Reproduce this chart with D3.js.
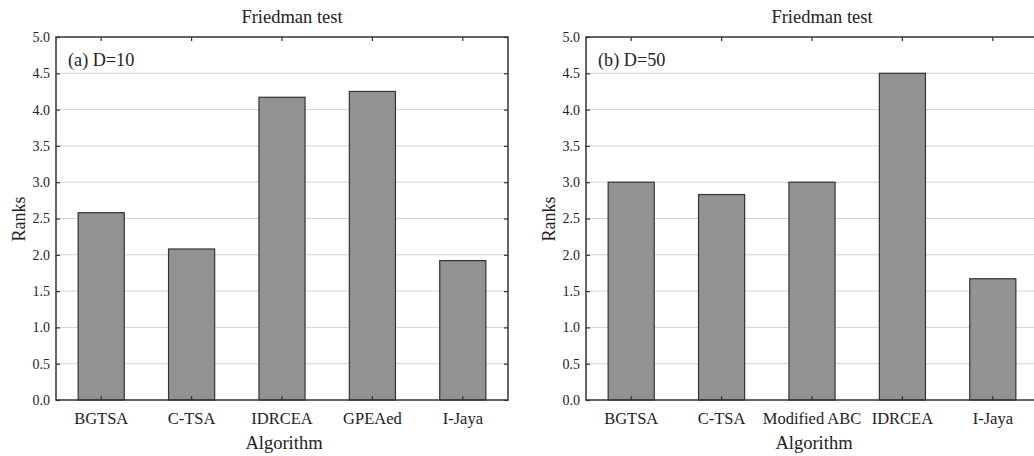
<!DOCTYPE html>
<html>
<head>
<meta charset="utf-8">
<script src="https://cdn.jsdelivr.net/npm/d3@7"></script>
<style>
  body { margin: 0; background: #fff; }
  svg { display: block; font-family: "Liberation Serif", "Times New Roman", serif; }
</style>
</head>
<body>
<div id="chart"></div>
<script>
// data
const algosA = ["BGTSA", "C-TSA", "IDRCEA", "GPEAed", "I-Jaya"];
const ranksA = [2.58, 2.08, 4.17, 4.25, 1.92];
const algosB = ["BGTSA", "C-TSA", "Modified ABC", "IDRCEA", "I-Jaya"];
const ranksB = [3.0, 2.83, 3.0, 4.5, 1.67];
const yTicks = [0, 0.5, 1, 1.5, 2, 2.5, 3, 3.5, 4, 4.5, 5];

const width = 1034, height = 456;
const svg = d3.select("#chart").append("svg")
  .attr("width", width)
  .attr("height", height);

function drawPanel(left, algos, ranks, tag) {
  const top = 37, bottom = 400, plotW = 452;
  const g = svg.append("g");

  const x = d3.scaleBand().domain(algos).range([left, left + plotW]).paddingInner(0).paddingOuter(0);
  const y = d3.scaleLinear().domain([0, 5]).range([bottom, top]);
  const barW = x.bandwidth() * 0.51;

  // gridlines
  g.selectAll(".grid")
    .data(yTicks.filter(t => t > 0 && t < 5))
    .enter().append("line")
    .attr("x1", left).attr("x2", left + plotW)
    .attr("y1", d => y(d)).attr("y2", d => y(d))
    .attr("stroke", "#d4d4d4").attr("stroke-width", 1);

  // bars
  g.selectAll(".bar")
    .data(ranks)
    .enter().append("rect")
    .attr("x", (d, i) => x(algos[i]) + x.bandwidth() / 2 - barW / 2)
    .attr("y", d => y(d))
    .attr("width", barW)
    .attr("height", d => bottom - y(d))
    .attr("fill", "#929292")
    .attr("stroke", "#333")
    .attr("stroke-width", 1.2);

  // axes
  const yAxis = g.append("g")
    .attr("transform", `translate(${left},0)`)
    .call(d3.axisLeft(y).tickValues(yTicks).tickFormat(d3.format(".1f")).tickSize(-4).tickPadding(6));
  const yRight = g.append("g")
    .attr("transform", `translate(${left + plotW},0)`)
    .call(d3.axisRight(y).tickValues(yTicks).tickSize(-4).tickFormat(""));
  const xAxis = g.append("g")
    .attr("transform", `translate(0,${bottom})`)
    .call(d3.axisBottom(x).tickSize(-4).tickPadding(12));
  const xTop = g.append("g")
    .attr("transform", `translate(0,${top})`)
    .call(d3.axisTop(x).tickSize(-4).tickFormat(""));

  [yAxis, yRight, xAxis, xTop].forEach(a => {
    a.select(".domain").remove();
    a.selectAll(".tick line").attr("stroke", "#333").attr("stroke-width", 1.2);
  });
  yAxis.selectAll("text").attr("font-size", 14).attr("fill", "#222").attr("font-family", "Liberation Serif");
  xAxis.selectAll("text").attr("font-size", 16.5).attr("fill", "#222").attr("font-family", "Liberation Serif");

  // frame
  g.append("rect")
    .attr("x", left).attr("y", top)
    .attr("width", plotW).attr("height", bottom - top)
    .attr("fill", "none").attr("stroke", "#333").attr("stroke-width", 1.5);

  g.append("text")
    .attr("x", left + plotW / 2 + 10).attr("y", 23)
    .attr("text-anchor", "middle").attr("font-size", 18.5).attr("fill", "#222")
    .text("Friedman test");

  g.append("text")
    .attr("x", left + 12).attr("y", 66)
    .attr("font-size", 18.2).attr("fill", "#222")
    .text(tag);

  g.append("text")
    .attr("x", left + plotW / 2 + 2).attr("y", 449)
    .attr("text-anchor", "middle").attr("font-size", 18.5).attr("fill", "#222")
    .text("Algorithm");

  g.append("text")
    .attr("transform", `translate(${left - 31},219) rotate(-90)`)
    .attr("text-anchor", "middle").attr("font-size", 18).attr("fill", "#222")
    .text("Ranks");
}

drawPanel(56, algosA, ranksA, "(a) D=10");
drawPanel(586, algosB, ranksB, "(b) D=50");
</script>
</body>
</html>
